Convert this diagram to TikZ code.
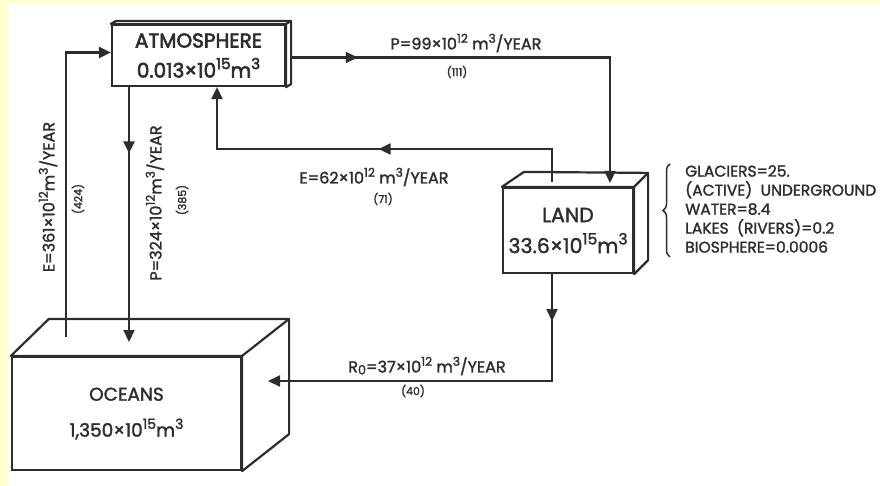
\documentclass[tikz,border=0pt]{standalone}
\usepackage{fontspec}
\setmainfont{Poppins}[FakeBold=1.6]
\newfontfamily\heavyfont{Poppins}[FakeBold=2.8]
\usetikzlibrary{arrows.meta,decorations.markings,decorations.pathreplacing}
\definecolor{ink}{RGB}{45,45,45}
\definecolor{paper}{RGB}{255,255,204}
\newcommand\upx[1]{\raisebox{0.42em}{\scalebox{0.76}{#1}}}
\newcommand\dnx[1]{\raisebox{-0.12em}{\scalebox{0.8}{#1}}}
\newcommand\drawcube[5]{%
  \draw[line, fill=white, line join=round] (#1.north west) -- ([shift={(#2,#3)}]#1.north west)
    -- ([shift={(#4,#5)}]#1.north east) -- ([shift={(#4,#5)}]#1.south east)
    -- (#1.south east) -- (#1.north east) -- cycle;
  \draw[line] (#1.north east) -- ([shift={(#4,#5)}]#1.north east);}
\begin{document}
\begin{tikzpicture}[x=1pt,y=-1pt,
  line/.style={draw=ink, line width=2.2pt},
  flow/.style={line, -{Triangle[length=12pt,width=11pt]}},
  mid/.style={postaction={decorate},decoration={markings,mark=at position #1 with {\arrow{Triangle[length=12pt,width=11pt]}}}},
  box/.style={line, fill=white, rectangle, inner sep=0pt, align=center, text=ink},
  lbl/.style={text=ink, font=\fontsize{16}{18}\selectfont, inner sep=0pt},
  num/.style={text=ink, font=\fontsize{11}{12}\selectfont, inner sep=0pt},
]
\fill[paper] (0,0) rectangle (880,486);
\fill[white] (7,3) rectangle (880,486);
\useasboundingbox (0,0) rectangle (880,486);

% reservoirs
\node[box, minimum width=173pt, minimum height=61pt, font=\heavyfont\fontsize{20}{30}\selectfont] (atm) at (198.5,55.5) {ATMOSPHERE\\0.013×10\upx{15}m\upx{3}};
\drawcube{atm}{5}{-3}{5}{-3}
\node[box, minimum width=130pt, minimum height=85pt, font=\fontsize{20.5}{31}\selectfont] (land) at (568,230.5) {LAND\\33.6×10\upx{15}m\upx{3}};
\drawcube{land}{22}{-15}{14}{-14}
\node[box, minimum width=229pt, minimum height=113pt, font=\fontsize{18.5}{36}\selectfont] (ocean) at (126.5,413.5) {OCEANS\\1,350×10\upx{15}m\upx{3}};
\drawcube{ocean}{38}{-37}{47}{-37}

% connector ends
\coordinate (oE) at (66,337);
\coordinate (oP) at (129,342);
\coordinate (lE) at (552,182);
\coordinate (lP) at (610,183);
\coordinate (oR) at (268,381);
\coordinate (aE) at (217,149);

\draw[flow] (oE) |- ([yshift=3pt]atm.west);
\draw[flow, mid=0.26] (oP |- atm.south) -- (oP);
\draw[flow, mid=0.48] (lE) |- (aE) -- (aE |- atm.south);
\draw[flow, mid=0.15] ([shift={(5,2)}]atm.east) -| (lP);
\draw[flow, mid=0.12] (lE |- land.south) |- (oR);

% labels
\node[lbl] (l99) at (466,43) {P=99×10\upx{12} m\upx{3}/YEAR};
\node[num] (n99) at (457,72) {(111)};
\node[lbl] (l62) at (374,177) {E=62×10\upx{12} m\upx{3}/YEAR};
\node[num] (n62) at (383,199) {(71)};
\node[lbl] (lR) at (427,366) {R\dnx{0}=37×10\upx{12} m\upx{3}/YEAR};
\node[num] (nR) at (413,391) {(40)};
\node[lbl, rotate=90] (l361) at (48,197) {E=361×10\upx{12}m\upx{3}/YEAR};
\node[num, rotate=90] (n361) at (78,199) {(424)};
\node[lbl, rotate=90] (l324) at (155,203) {P=324×10\upx{12}m\upx{3}/YEAR};
\node[num, rotate=90] (n324) at (182,200) {(385)};

\node[lbl, anchor=north west, align=left, font=\fontsize{15.5}{19}\selectfont] (res) at (685,165)
  {GLACIERS=25.\\(ACTIVE)\ \ UNDERGROUND\\WATER=8.4\\LAKES\ \ (RIVERS)=0.2\\BIOSPHERE=0.0006};
\draw[draw=ink, line width=1.5pt, decorate, decoration={brace, amplitude=7pt}]
  ([xshift=-15pt, yshift=-4pt]res.south west) -- ([xshift=-15pt, yshift=1pt]res.north west);
\end{tikzpicture}
\end{document}
